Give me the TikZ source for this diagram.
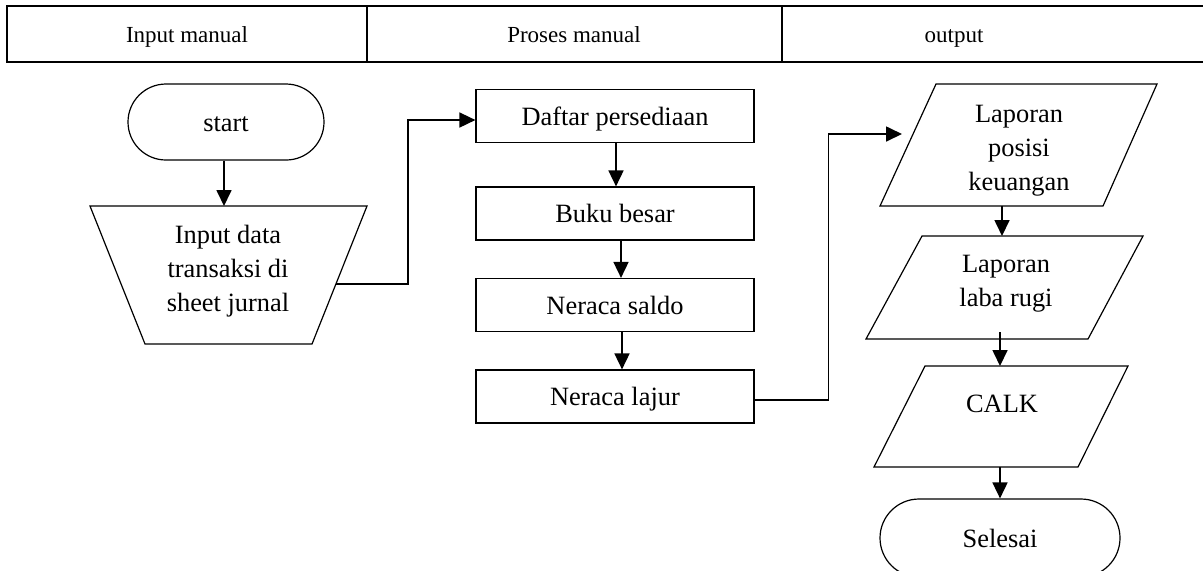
\documentclass[tikz,border=0pt]{standalone}
\usepackage{fontspec}
\setmainfont{Liberation Serif}
\usetikzlibrary{arrows.meta,calc}
\begin{document}
\begin{tikzpicture}[x=0.5pt,y=-0.5pt,
  bodyfont/.style={font=\fontsize{13.2}{17}\selectfont},
  box/.style={draw, line width=0.6pt, minimum width=139pt, minimum height=26.5pt, inner sep=0pt, text height=11pt, text depth=2pt, bodyfont},
  term/.style={draw, line width=0.6pt, rounded corners=19pt, minimum height=38pt, inner sep=0pt, text height=11pt, text depth=2pt, bodyfont},
  txt/.style={align=center, inner sep=0pt, bodyfont},
  head/.style={inner sep=0pt, anchor=base, font=\fontsize{11.5}{14}\selectfont},
  hdr/.style={line width=0.9pt},
  shp/.style={draw, line width=0.6pt, line join=miter},
  arr/.style={-{Triangle[length=8pt,width=7.5pt]}, line width=0.85pt},
]
\clip (0,0) rectangle (1203,570);
\fill[white] (0,0) rectangle (1203,570);

% header
\draw[hdr] (1210,6) -- (7,6) -- (7,62) -- (1210,62);
\draw[hdr] (367,6) -- (367,62);
\draw[hdr] (782,6) -- (782,62);
\node[head] (h1) at (187,42) {Input manual};
\node[head] (h2) at (574,42) {Proses manual};
\node[head] (h3) at (954,42) {output};

% input column
\node[term, minimum width=98pt] (start) at (226,122) {start};
\draw[shp] (90,206) -- (367,206) -- (312,344) -- (145,344) -- cycle;
\coordinate (inTop) at (224,206);
\coordinate (inR) at (336,284);
\node[txt] (inp) at (228,271) {Input data\\transaksi di\\sheet jurnal};

% process column
\node[box] (daf) at (615,116) {Daftar persediaan};
\node[box] (buku) at (615,213.5) {Buku besar};
\node[box] (saldo) at (615,305) {Neraca saldo};
\node[box] (lajur) at (615,396.5) {Neraca lajur};

% output column
\draw[shp] (936,84) -- (1157,84) -- (1103,206) -- (880,206) -- cycle;
\node[txt] (p1) at (1019,151) {Laporan\\posisi\\keuangan};
\coordinate (p1in) at (902,134);
\coordinate (p1b) at (1002,206);

\draw[shp] (922,236) -- (1143,236) -- (1088,339) -- (866,339) -- cycle;
\node[txt] (p2) at (1006,283.5) {Laporan\\laba rugi};
\coordinate (p2t) at (1002,236);
\coordinate (p2b) at (1000,332);

\draw[shp] (925,366) -- (1128,366) -- (1078,467) -- (874,467) -- cycle;
\node[txt] (p3) at (1002,404) {CALK};
\coordinate (p3t) at (1000,366);
\coordinate (p3b) at (1000,467);

\node[term, minimum width=120pt, minimum height=39pt, rounded corners=19.5pt] (end) at (1000,538) {Selesai};

% connectors
\draw[arr] (start.south -| inTop) -- (inTop);
\draw[arr] (inR) -- ++(72,0) |- ([yshift=-2pt]daf.west);
\draw[arr] ([xshift=0.5pt]daf.south) -- ([xshift=0.5pt]buku.north);
\draw[arr] ([xshift=3pt]buku.south) -- ([xshift=3pt]saldo.north);
\draw[arr] ([xshift=3.5pt]saldo.south) -- ([xshift=3.5pt]lajur.north);
\draw[arr] ([yshift=-1.75pt]lajur.east) -- ++(74,0) |- (p1in);
\draw[arr] (p1b) -- (p2t);
\draw[arr] (p2b) -- (p3t);
\draw[arr] (p3b) -- (end.north -| p3b);
\end{tikzpicture}
\end{document}
